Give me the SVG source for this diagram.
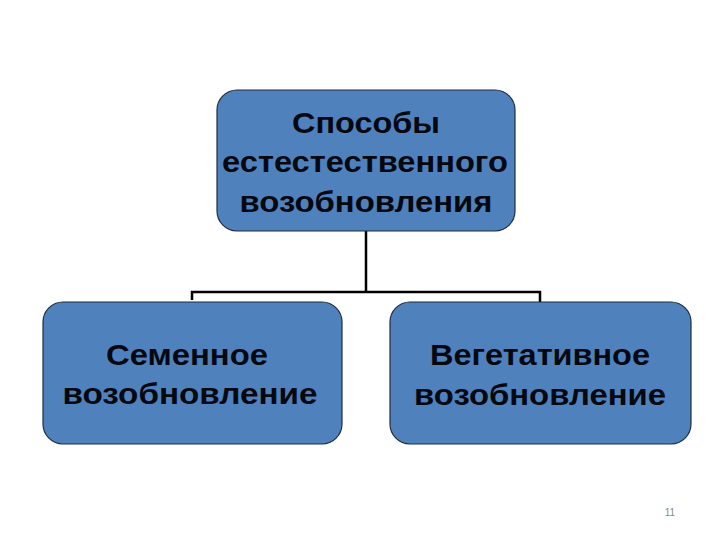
<svg xmlns="http://www.w3.org/2000/svg" width="720" height="540" viewBox="0 0 720 540">
<style>
.box{fill:#4F81BD;stroke:#1F2D40;stroke-width:1.2}
.lbl{font-family:"Liberation Sans",Arial,sans-serif;font-weight:bold;font-size:30px;fill:#05080F;text-anchor:middle}
.conn{fill:none;stroke:#000;stroke-width:2.5}
.pg{font-family:"Liberation Sans",Arial,sans-serif;font-size:10px;fill:#8A8A8A;text-anchor:middle}
</style>
<rect width="720" height="540" fill="#fff"/>
<g id="connectors">
<path class="conn" d="M366 231 V292 M192 300 V292 H540 V302"/>
</g>
<g id="root">
<rect class="box" x="217" y="90" width="298" height="141" rx="20"/>
<text class="lbl" x="366" y="133" textLength="148" lengthAdjust="spacingAndGlyphs">Способы</text>
<text class="lbl" x="365" y="172" textLength="286" lengthAdjust="spacingAndGlyphs">естестественного</text>
<text class="lbl" x="366" y="212" textLength="253" lengthAdjust="spacingAndGlyphs">возобновления</text>
</g>
<g id="seed">
<rect class="box" x="43" y="302" width="299" height="142" rx="20"/>
<text class="lbl" x="187" y="365" textLength="162" lengthAdjust="spacingAndGlyphs">Семенное</text>
<text class="lbl" x="190" y="404" textLength="255" lengthAdjust="spacingAndGlyphs">возобновление</text>
</g>
<g id="veg">
<rect class="box" x="390" y="302" width="301" height="142" rx="20"/>
<text class="lbl" x="540" y="365" textLength="220" lengthAdjust="spacingAndGlyphs">Вегетативное</text>
<text class="lbl" x="540" y="405" textLength="252" lengthAdjust="spacingAndGlyphs">возобновление</text>
</g>
<text class="pg" x="670" y="516">11</text>
</svg>
